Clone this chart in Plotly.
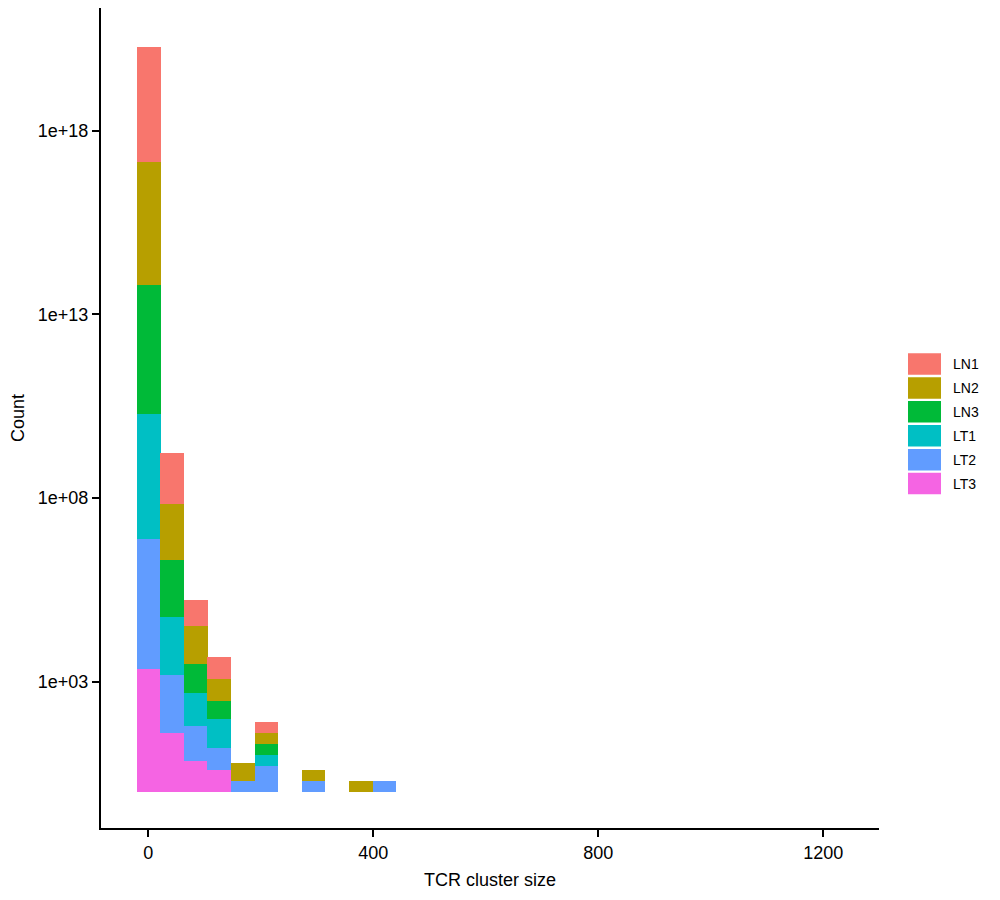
import numpy as np
import plotly.graph_objects as go

# ---- data ----
groups = ["LN1", "LN2", "LN3", "LT1", "LT2", "LT3"]
colors = ["#F8766D", "#B79F00", "#00BA38", "#00BFC4", "#619CFF", "#F564E3"]

bin_centers = [1, 42.86, 84.72, 126.58, 168.44, 210.3, 252.16, 294.02, 335.88, 377.74, 419.6]
bin_width = 41.86

counts_LN1 = [1352, 24, 5, 4, 0, 2, 0, 0, 0, 0, 0]
counts_LN2 = [2233, 33, 11, 4, 3, 2, 0, 2, 0, 2, 0]
counts_LN3 = [3250, 36, 6, 3, 0, 2, 0, 0, 0, 0, 0]
counts_LT1 = [2530, 38, 8, 6, 0, 2, 0, 0, 0, 0, 0]
counts_LT2 = [3460, 38, 9, 4, 2, 5, 0, 2, 0, 0, 2]
counts_LT3 = [2205, 40, 7, 4, 0, 0, 0, 0, 0, 0, 0]

counts = {
    "LN1": counts_LN1, "LN2": counts_LN2, "LN3": counts_LN3,
    "LT1": counts_LT1, "LT2": counts_LT2, "LT3": counts_LT3,
}

y_tick_values = [1e3, 1e8, 1e13, 1e18]
y_tick_labels = ["1e+03", "1e+08", "1e+13", "1e+18"]
x_tick_values = [0, 400, 800, 1200]

FONT = "Liberation Sans, Arial, Helvetica, sans-serif"

fig = go.Figure()
# ggplot stacks on the log10-transformed scale: LT3 at the bottom, LN1 on top
for g, col in reversed(list(zip(groups, colors))):
    c = counts[g]
    fig.add_trace(go.Bar(
        x=bin_centers,
        y=[np.log10(v) if v > 0 else None for v in c],
        width=bin_width * 1.01,
        name=g,
        marker=dict(color=col, line=dict(width=0)),
        customdata=c,
        hovertemplate=g + "<br>size: %{x}<br>count: %{customdata}<extra></extra>",
        showlegend=False,
    ))

# manual ggplot-style legend (large keys); panel spans page x 101..879, y 8..828
panel_left, panel_w = 101, 778
panel_top, panel_h = 8, 820
key_top0, key_step, key_h = 353.3, 23.9, 21.5
for i, (g, col) in enumerate(zip(groups, colors)):
    top = key_top0 + i * key_step
    y0 = 1 - (top + key_h - panel_top) / panel_h
    y1 = 1 - (top - panel_top) / panel_h
    fig.add_shape(type="rect", xref="paper", yref="paper",
                  x0=(908 - panel_left) / panel_w, x1=(941 - panel_left) / panel_w,
                  y0=y0, y1=y1, fillcolor=col, line=dict(width=0))
    fig.add_annotation(xref="paper", yref="paper", x=(951 - panel_left) / panel_w,
                       y=(y0 + y1) / 2, text=g, showarrow=False,
                       xanchor="left", yanchor="middle",
                       font=dict(family=FONT, size=14, color="black"))

# the page body has an 8px margin, so margins are shifted by 8px
fig.update_layout(
    width=1000, height=900, autosize=False,
    margin=dict(l=93, r=129, t=0, b=80),
    barmode="stack", bargap=0,
    plot_bgcolor="white", paper_bgcolor="white",
    font=dict(family=FONT, size=18, color="black"),
    showlegend=False,
)
fig.update_xaxes(
    range=[-83.8, 1299], tickvals=x_tick_values,
    showline=True, linewidth=2, linecolor="black",
    ticks="outside", ticklen=7, tickwidth=2, tickcolor="black",
    showgrid=False, zeroline=False,
    tickfont=dict(family=FONT, size=18, color="black"),
    title=dict(text="TCR cluster size", standoff=12,
               font=dict(family=FONT, size=18, color="black")),
)
fig.update_yaxes(
    range=[-0.985, 21.34],
    tickvals=[np.log10(v) for v in y_tick_values], ticktext=y_tick_labels,
    showline=True, linewidth=2, linecolor="black",
    ticks="outside", ticklen=7, tickwidth=2, tickcolor="black",
    showgrid=False, zeroline=False,
    tickfont=dict(family=FONT, size=18, color="black"),
    title=dict(text="Count", standoff=12,
               font=dict(family=FONT, size=18, color="black")),
)

fig.write_html("out.html")
